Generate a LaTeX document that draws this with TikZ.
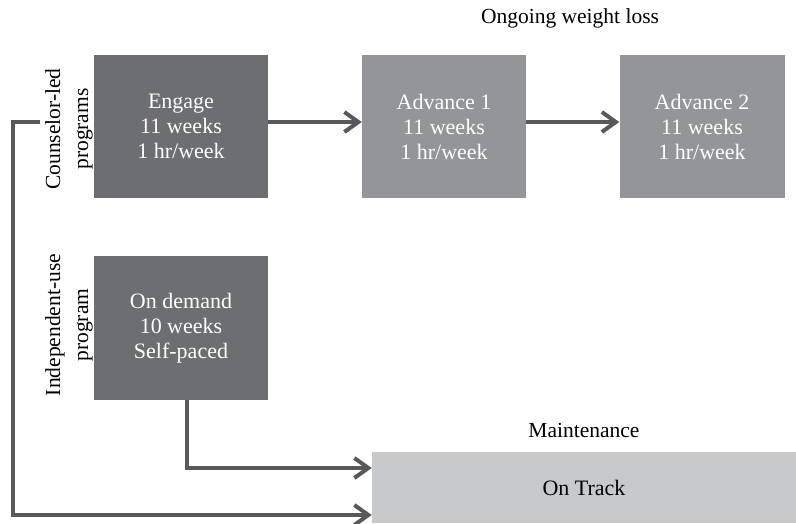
\documentclass[tikz,border=0pt]{standalone}
\usepackage{fontspec}
\setmainfont{Liberation Serif}
\usetikzlibrary{arrows.meta}
\definecolor{darkbox}{HTML}{6D6E71}
\definecolor{midbox}{HTML}{939598}
\definecolor{lightbox}{HTML}{C8C9CB}
\definecolor{linegray}{HTML}{58595B}
\begin{document}
\begin{tikzpicture}[x=1pt,y=-1pt,
  box/.style={rectangle, inner sep=0pt, text=white, align=center, font=\fontsize{22}{25}\selectfont},
  conn/.style={draw=linegray, line width=4pt, -{Straight Barb[length=14pt,width=20pt]}},
  lbl/.style={font=\fontsize{21.5}{28}\selectfont, align=center, text=black, inner sep=0pt}]
\useasboundingbox (0,0) rectangle (796,523);
\node[box, fill=darkbox, minimum width=174pt, minimum height=143pt] (engage) at (181,126.5) {Engage\\11 weeks\\1 hr/week};
\node[box, fill=midbox, minimum width=164pt, minimum height=143pt] (adv1) at (444,126.5) {Advance 1\\11 weeks\\1 hr/week};
\node[box, fill=midbox, minimum width=165pt, minimum height=143pt] (adv2) at (702,126.5) {Advance 2\\11 weeks\\1 hr/week};
\node[box, fill=darkbox, minimum width=174pt, minimum height=144pt] (ondemand) at (181,328) {On demand\\10 weeks\\Self-paced};
\node[box, fill=lightbox, text=black, minimum width=424pt, minimum height=71pt] (ontrack) at (584,487.5) {On Track};
\node[lbl] (ongoing) at (570,18) {Ongoing weight loss};
\node[lbl] (maint) at (584,430) {Maintenance};
\node[lbl, rotate=90] (counsel) at (69,129) {Counselor-led\\programs};
\node[lbl, rotate=90] (indep) at (69,325) {Independent-use\\program};
\coordinate (stub) at (40,122);
\coordinate (corner) at (13,515);
\coordinate (odbot) at (187,400);
\coordinate (odcorner) at (187,468);
\draw[conn] (engage.east |- 0,122) -- (adv1.west |- 0,122);
\draw[conn] (adv1.east |- 0,122) -- (adv2.west |- 0,122);
\draw[conn] (stub) -| (corner) -- (corner -| ontrack.west);
\draw[conn] (odbot) -- (odcorner) -- (odcorner -| ontrack.west);
\end{tikzpicture}
\end{document}
